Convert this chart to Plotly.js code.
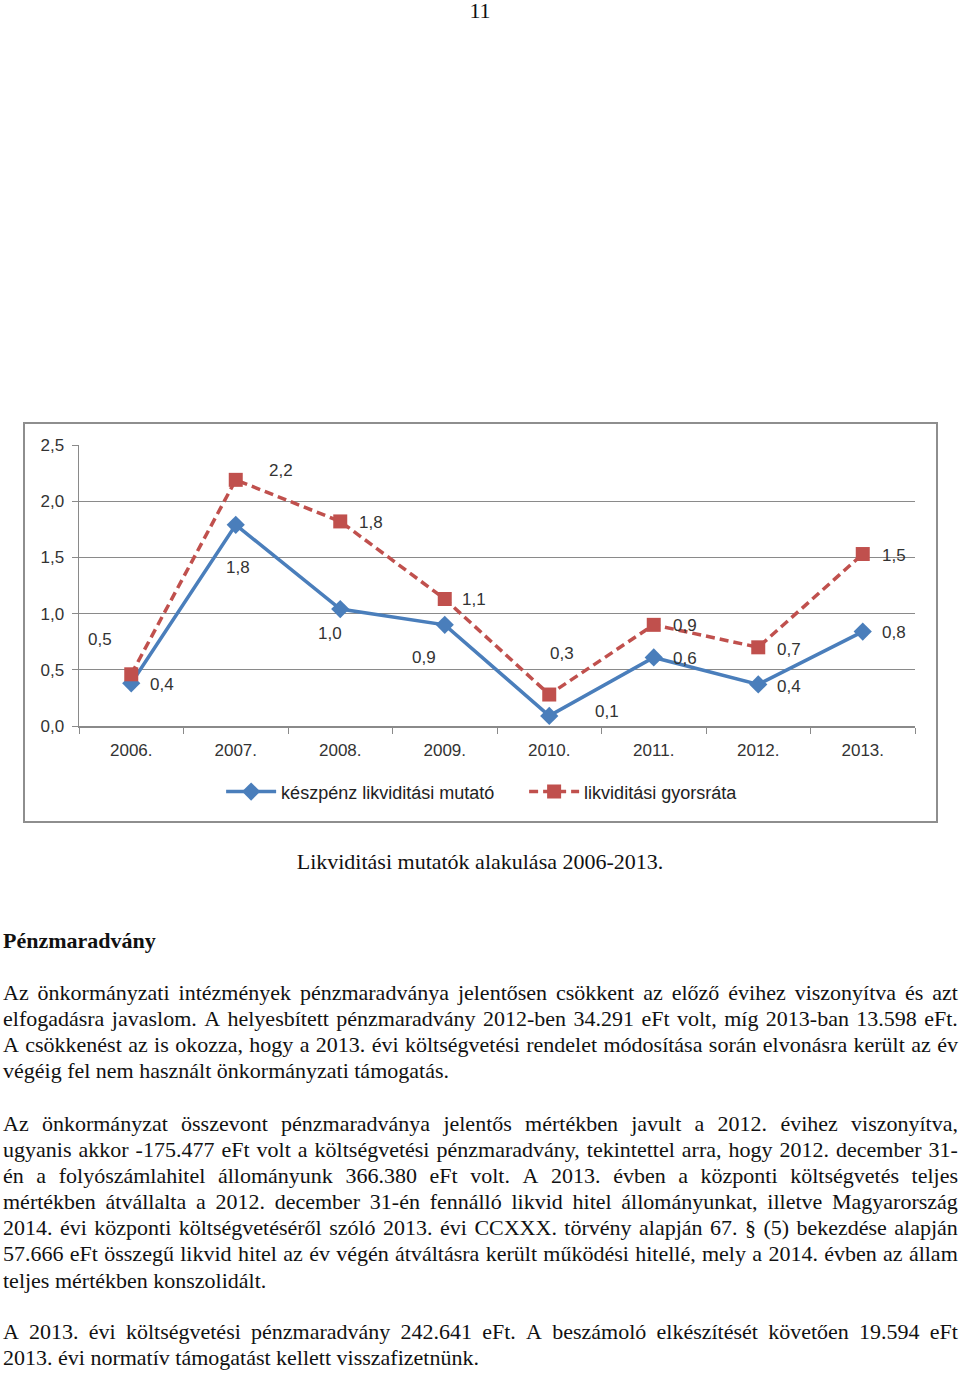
<!DOCTYPE html>
<html>
<head>
<meta charset="utf-8">
<script src="https://cdn.plot.ly/plotly-3.0.1.min.js"></script>
<style>
  html, body { margin: 0; padding: 0; background: #fff; }
  body { width: 960px; height: 1373px; position: relative; overflow: hidden; font-family: "Liberation Serif", "DejaVu Serif", serif; color: #111; }
  .abs { position: absolute; }
  #chartbox { position: absolute; left: 23px; top: 422px; width: 911px; height: 397px; border: 2px solid #8e8e8e; }
  #chart { width: 911px; height: 397px; }
  .para { position: absolute; left: 3px; width: 955px; font-size: 22px; line-height: 26.1px; }
  .para .j { display: flex; justify-content: space-between; white-space: nowrap; }
  .para .l { text-align: left; white-space: nowrap; }
</style>
</head>
<body>
<div class="abs" style="left:0;width:960px;top:0px;text-align:center;font-size:22px;line-height:22px;">11</div>

<div id="chartbox"><div id="chart"></div></div>

<div class="abs" style="left:0;width:960px;top:849px;text-align:center;font-size:22px;line-height:26px;">Likviditási mutatók alakulása 2006-2013.</div>

<div class="abs" style="left:3px;top:928px;font-size:22px;line-height:26px;font-weight:bold;">Pénzmaradvány</div>

<div class="para" style="top:980px;">
  <div class="j">Az önkormányzati intézmények pénzmaradványa jelentősen csökkent az előző évihez viszonyítva és azt</div>
  <div class="j">elfogadásra javaslom. A helyesbített pénzmaradvány 2012-ben 34.291 eFt volt, míg 2013-ban 13.598 eFt.</div>
  <div class="j">A csökkenést az is okozza, hogy a 2013. évi költségvetési rendelet módosítása során elvonásra került az év</div>
  <div class="l">végéig fel nem használt önkormányzati támogatás.</div>
</div>

<div class="para" style="top:1111px;">
  <div class="j">Az önkormányzat összevont pénzmaradványa jelentős mértékben javult a 2012. évihez viszonyítva,</div>
  <div class="j">ugyanis akkor -175.477 eFt volt a költségvetési pénzmaradvány, tekintettel arra, hogy 2012. december 31-</div>
  <div class="j">én a folyószámlahitel állományunk 366.380 eFt volt. A 2013. évben a központi költségvetés teljes</div>
  <div class="j">mértékben átvállalta a 2012. december 31-én fennálló likvid hitel állományunkat, illetve Magyarország</div>
  <div class="j">2014. évi központi költségvetéséről szóló 2013. évi CCXXX. törvény alapján 67. § (5) bekezdése alapján</div>
  <div class="j">57.666 eFt összegű likvid hitel az év végén átváltásra került működési hitellé, mely a 2014. évben az állam</div>
  <div class="l">teljes mértékben konszolidált.</div>
</div>

<div class="para" style="top:1319px;">
  <div class="j">A 2013. évi költségvetési pénzmaradvány 242.641 eFt. A beszámoló elkészítését követően 19.594 eFt</div>
  <div class="l">2013. évi normatív támogatást kellett visszafizetnünk.</div>
</div>

<script>
// split justified lines into word spans (flex space-between keeps each line on one row)
document.querySelectorAll(".para .j").forEach(el => {
  const words = el.textContent.trim().split(/\s+/);
  el.textContent = "";
  words.forEach(w => { const s = document.createElement("span"); s.textContent = w; el.appendChild(s); });
});

// ---- data ----
const years = ["2006.", "2007.", "2008.", "2009.", "2010.", "2011.", "2012.", "2013."];
const cashName = "készpénz likviditási mutató";
const cashValues = [0.38, 1.79, 1.04, 0.90, 0.09, 0.61, 0.37, 0.84];
const quickName = "likviditási gyorsráta";
const quickValues = [0.46, 2.19, 1.82, 1.13, 0.28, 0.90, 0.70, 1.53];
const yTicks = [0, 0.5, 1.0, 1.5, 2.0, 2.5];

// ---- label placement (styling, px offsets: [dx, dy down]) ----
const cashLabelOffsets = [[31, 1], [2, 43], [-10, 24], [-21, 33], [58, -4], [31, 1], [31, 2], [31, 1]];
const quickLabelOffsets = [[-31, -35], [45, -9], [31, 1], [29, 1], [13, -41], [31, 1], [31, 2], [31, 1]];

const blue = "#4A7EBB";
const red = "#C0504D";
const fontFam = "Liberation Sans, Arial, sans-serif";
const txtCol = "#333333";
const fs = 17;

function fmt(v) { return v.toFixed(1).replace(".", ","); }

const traces = [
  {
    x: years, y: cashValues, name: cashName, type: "scatter", mode: "lines+markers",
    line: { color: blue, width: 3.5 },
    marker: { symbol: "diamond", size: 14, color: blue },
    hoverinfo: "skip"
  },
  {
    x: years, y: quickValues, name: quickName, type: "scatter", mode: "lines+markers",
    line: { color: red, width: 3.5, dash: "9px,5px" },
    marker: { symbol: "square", size: 14, color: red },
    hoverinfo: "skip"
  }
];

const annotations = [];
function addLabels(vals, offs) {
  vals.forEach((v, i) => {
    annotations.push({
      x: i, y: v, xref: "x", yref: "y", text: fmt(v), showarrow: false,
      xshift: offs[i][0], yshift: -offs[i][1],
      font: { family: fontFam, size: fs, color: txtCol }
    });
  });
}
addLabels(quickValues, quickLabelOffsets);
addLabels(cashValues, cashLabelOffsets);

const layout = {
  width: 911, height: 397,
  margin: { l: 54, r: 21, t: 21, b: 94 },
  paper_bgcolor: "#fff", plot_bgcolor: "#fff",
  showlegend: true,
  font: { family: fontFam, size: fs, color: txtCol },
  xaxis: {
    type: "category", range: [-0.5, 7.5], tickson: "boundaries", ticks: "outside", ticklen: 6, tickcolor: "#8a8a8a",
    showline: true, linecolor: "#8a8a8a", linewidth: 1.5, showgrid: false, zeroline: false,
    tickfont: { family: fontFam, size: fs, color: txtCol }, ticklabelstandoff: 8
  },
  yaxis: {
    range: [0, 2.5], tickvals: yTicks, ticktext: yTicks.map(fmt), ticks: "outside", ticklen: 6, tickcolor: "#8a8a8a",
    showline: true, linecolor: "#8a8a8a", linewidth: 1.5, showgrid: true, gridcolor: "#8a8a8a", gridwidth: 1,
    zeroline: false, tickfont: { family: fontFam, size: fs, color: txtCol }, ticklabelstandoff: 4
  },
  legend: {
    orientation: "h", x: 0.17, xanchor: "left", y: -0.23, yanchor: "middle",
    itemwidth: 50, entrywidth: 238, entrywidthmode: "pixels",
    font: { family: fontFam, size: 18, color: "#222" }, bgcolor: "rgba(0,0,0,0)"
  },
  annotations: annotations
};

Plotly.newPlot("chart", traces, layout, { displayModeBar: false, staticPlot: true });
</script>
</body>
</html>
